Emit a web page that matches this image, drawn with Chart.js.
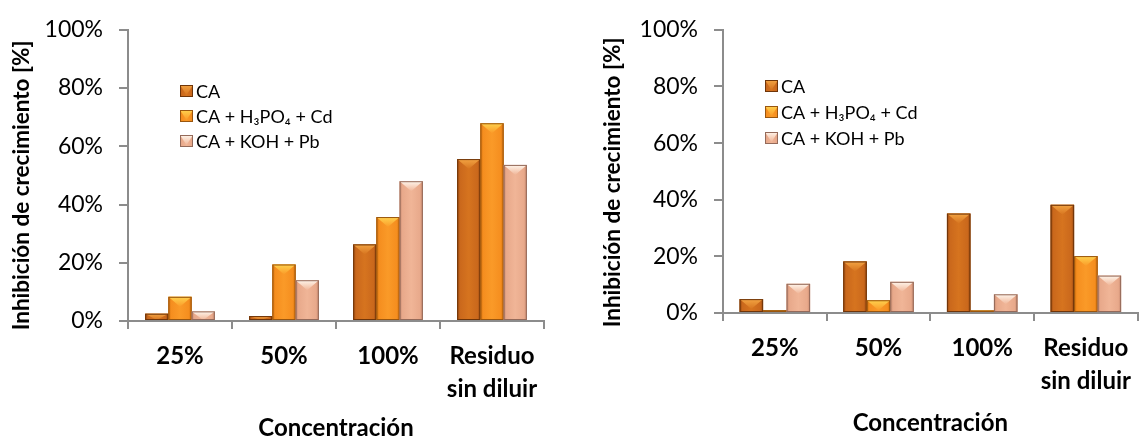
<!DOCTYPE html>
<html>
<head>
<meta charset="utf-8">
<script src="https://cdn.jsdelivr.net/npm/chart.js@4.4.1/dist/chart.umd.min.js"></script>
<style>
  html, body { margin: 0; padding: 0; background: #fff; }
  #wrap { position: relative; width: 1142px; height: 439px; overflow: hidden; }
  .panel { position: absolute; top: 0; width: 571px; height: 439px; }
  #pLeft { left: 0; }
  #pRight { left: 571px; }
</style>
</head>
<body>
<div id="wrap">
  <div class="panel" id="pLeft"><canvas id="cLeft" width="571" height="439"></canvas></div>
  <div class="panel" id="pRight"><canvas id="cRight" width="571" height="439"></canvas></div>
</div>
<script>
// Categories (dilution of the residue) and series names
const categories = ['25%', '50%', '100%', ['Residuo', 'sin diluir']];
const seriesNames = ['CA', 'CA + H\u2083PO\u2084 + Cd', 'CA + KOH + Pb'];

// Growth inhibition [%], first panel
const leftCA    = [2.5, 1.7, 26.3, 55.6];
const leftH3PO4 = [8.3, 19.4, 35.7, 67.9];
const leftKOH   = [3.3, 14.0, 48.0, 53.6];

// Growth inhibition [%], second panel
const rightCA    = [4.9, 18.2, 35.1, 38.2];
const rightH3PO4 = [1.0, 4.5, 0.9, 20.1];
const rightKOH   = [10.3, 11.0, 6.6, 13.2];

// Value axis ticks
const yMin = 0, yMax = 100, yStep = 20;

const yTitleText = 'Inhibición de crecimiento [%]';
const xTitleText = 'Concentración';

// Bevelled bar colours per series
const palette = [
  { body: '#CA681C', mid: '#D6741F', edge: '#984810', hi: '#F3A443', line: '#6F3509' },
  { body: '#F58E1F', mid: '#FA9A28', edge: '#D26F0C', hi: '#FFD24E', line: '#99560F' },
  { body: '#E8A98B', mid: '#F0B597', edge: '#C98A70', hi: '#FFF6EC', line: '#946A5A' }
];

const FONT = 'Lato, "Open Sans", sans-serif';
const AXIS_GREY = '#8C8C8C';

function drawBevelBar(ctx, l, t, r, b, p) {
  const w = r - l, h = b - t;
  if (h <= 0 || w <= 0) return;
  ctx.save();
  const g = ctx.createLinearGradient(l, 0, r, 0);
  g.addColorStop(0, p.edge);
  g.addColorStop(0.12, p.body);
  g.addColorStop(0.5, p.mid);
  g.addColorStop(0.88, p.body);
  g.addColorStop(1, p.edge);
  ctx.fillStyle = g;
  ctx.fillRect(l, t, w, h);

  // slanted top facet
  const d = Math.min(10, h);
  const cx = (l + r) / 2;
  const tg = ctx.createLinearGradient(0, t, 0, t + d);
  tg.addColorStop(0, p.hi);
  tg.addColorStop(1, p.mid);
  ctx.beginPath();
  ctx.moveTo(l, t);
  ctx.lineTo(r, t);
  ctx.lineTo(cx, t + d);
  ctx.closePath();
  ctx.fillStyle = tg;
  ctx.fill();

  ctx.strokeStyle = p.line;
  ctx.lineWidth = 1;
  ctx.strokeRect(l + 0.5, t + 0.5, w - 1, h - 1);
  ctx.restore();
}

// Repaints every bar element with the bevelled look
const bevelBars = {
  id: 'bevelBars',
  afterDatasetsDraw(chart) {
    const ctx = chart.ctx;
    chart.data.datasets.forEach((ds, i) => {
      const meta = chart.getDatasetMeta(i);
      if (meta.hidden) return;
      meta.data.forEach(el => {
        const { x, y, base, width } = el.getProps(['x', 'y', 'base', 'width'], true);
        drawBevelBar(ctx, x - width / 2, Math.min(y, base), x + width / 2, Math.max(y, base), palette[i]);
      });
    });
  }
};

// Legend drawn inside the plot area
const barLegend = {
  id: 'barLegend',
  afterDraw(chart, args, opts) {
    const ctx = chart.ctx;
    const ca = chart.chartArea;
    ctx.save();
    ctx.font = '18px ' + FONT;
    ctx.textBaseline = 'middle';
    chart.data.datasets.forEach((ds, i) => {
      const bx = ca.left + opts.dx;
      const cy = opts.y0 + i * opts.step;
      drawBevelBar(ctx, bx, cy - 6, bx + 13, cy + 6, palette[i]);
      ctx.fillStyle = '#000';
      ctx.textAlign = 'left';
      ctx.fillText(ds.label, bx + 16, cy + 1);
    });
    ctx.restore();
  }
};

// Axis titles
const axisTitles = {
  id: 'axisTitles',
  afterDraw(chart, args, opts) {
    const ctx = chart.ctx;
    const ca = chart.chartArea;
    ctx.save();
    ctx.fillStyle = '#000';
    ctx.font = 'bold ' + opts.ySize + 'px ' + FONT;
    ctx.textAlign = 'center';
    ctx.textBaseline = 'middle';
    ctx.translate(opts.yx, (ca.top + ca.bottom) / 2 + opts.ydy);
    ctx.rotate(-Math.PI / 2);
    ctx.fillText(yTitleText, 0, 0);
    ctx.restore();

    ctx.save();
    ctx.fillStyle = '#000';
    ctx.font = 'bold ' + opts.xSize + 'px ' + FONT;
    ctx.textAlign = 'center';
    ctx.textBaseline = 'middle';
    ctx.fillText(xTitleText, (ca.left + ca.right) / 2 + opts.xdx, ca.bottom + opts.xdy);
    ctx.restore();
  }
};

function makeChart(canvasId, ca, h3, koh, geo) {
  const values = [ca, h3, koh];
  return new Chart(document.getElementById(canvasId), {
    type: 'bar',
    data: {
      labels: categories,
      datasets: values.map((v, i) => ({
        label: seriesNames[i],
        data: v,
        backgroundColor: palette[i].body,
        borderColor: palette[i].line,
        borderWidth: 0,
        categoryPercentage: geo.catPct,
        barPercentage: 1.0
      }))
    },
    options: {
      responsive: false,
      animation: false,
      devicePixelRatio: 1,
      layout: { padding: { left: 0, right: geo.padRight, top: geo.padTop, bottom: 0 } },
      plugins: {
        legend: { display: false },
        tooltip: { enabled: false },
        barLegend: { dx: geo.legDx, y0: geo.legY0, step: geo.legStep },
        axisTitles: { yx: geo.yTitleX, ydy: geo.yTitleDy, ySize: 22.5, xdx: 0, xdy: geo.xTitleDy, xSize: 24 }
      },
      scales: {
        x: {
          grid: {
            display: true,
            drawOnChartArea: false,
            drawTicks: true,
            tickLength: 8,
            color: AXIS_GREY,
            lineWidth: 2,
            offset: true
          },
          border: { display: true, color: AXIS_GREY, width: 2 },
          ticks: {
            color: '#000',
            font: { family: FONT, size: 24, weight: 'bold', lineHeight: 1.38 },
            padding: geo.xTickPad,
            maxRotation: 0,
            autoSkip: false
          },
          afterFit(scale) { scale.height = geo.xHeight; }
        },
        y: {
          min: yMin,
          max: yMax,
          grid: {
            display: true,
            drawOnChartArea: false,
            drawTicks: true,
            tickLength: 9,
            color: AXIS_GREY,
            lineWidth: 2
          },
          border: { display: true, color: AXIS_GREY, width: 2 },
          ticks: {
            stepSize: yStep,
            color: '#000',
            font: { family: FONT, size: 23 },
            padding: 16,
            callback: v => v + '%'
          },
          afterFit(scale) { scale.width = geo.yWidth; }
        }
      }
    },
    plugins: [bevelBars, barLegend, axisTitles]
  });
}

makeChart('cLeft', leftCA, leftH3PO4, leftKOH, {
  yWidth: 128, xHeight: 118, padTop: 22, padRight: 27,
  catPct: 0.67, xTickPad: 11,
  legDx: 52, legY0: 91, legStep: 25,
  yTitleX: 22, yTitleDy: 10, xTitleDy: 107
});

makeChart('cRight', rightCA, rightH3PO4, rightKOH, {
  yWidth: 152, xHeight: 126, padTop: 19, padRight: 0,
  catPct: 0.68, xTickPad: 11,
  legDx: 42, legY0: 86, legStep: 26,
  yTitleX: 42, yTitleDy: 11, xTitleDy: 110
});
</script>
</body>
</html>
